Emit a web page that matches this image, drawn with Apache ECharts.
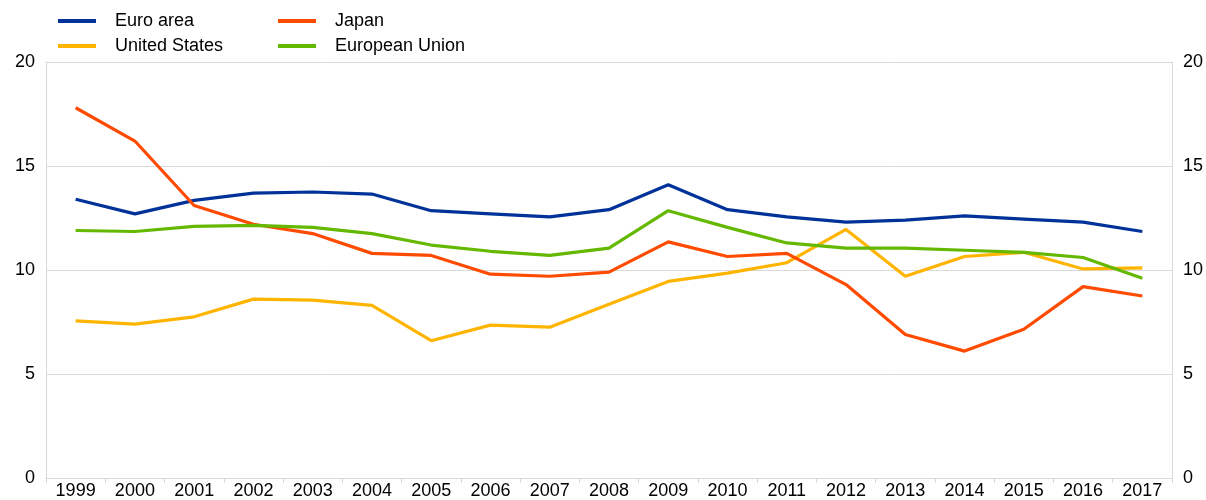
<!DOCTYPE html>
<html>
<head>
<meta charset="utf-8">
<script src="https://cdn.jsdelivr.net/npm/echarts@6/dist/echarts.min.js"></script>
<style>
  html, body { margin: 0; padding: 0; background: #fff; }
  #chart { width: 1206px; height: 500px; }
</style>
</head>
<body>
<div id="chart"></div>
<script>
// ── data ─────────────────────────────────────────────
const years = ['1999', '2000', '2001', '2002', '2003', '2004', '2005', '2006', '2007', '2008',
  '2009', '2010', '2011', '2012', '2013', '2014', '2015', '2016', '2017'];

const euroArea = [13.4, 12.7, 13.35, 13.7, 13.75, 13.65, 12.85, 12.7, 12.55, 12.9,
  14.1, 12.9, 12.55, 12.3, 12.4, 12.6, 12.45, 12.3, 11.85];
const unitedStates = [7.55, 7.4, 7.75, 8.6, 8.55, 8.3, 6.6, 7.35, 7.25, 8.35,
  9.45, 9.85, 10.35, 11.95, 9.7, 10.65, 10.85, 10.05, 10.1];
const japan = [17.8, 16.2, 13.1, 12.2, 11.75, 10.8, 10.7, 9.8, 9.7, 9.9,
  11.35, 10.65, 10.8, 9.3, 6.9, 6.1, 7.15, 9.2, 8.75];
const europeanUnion = [11.9, 11.85, 12.1, 12.15, 12.05, 11.75, 11.2, 10.9, 10.7, 11.05,
  12.85, 12.05, 11.3, 11.05, 11.05, 10.95, 10.85, 10.6, 9.6];

const yTicks = [0, 5, 10, 15, 20];

// ── chart ────────────────────────────────────────────
const FONT = 'Liberation Sans, Arial, sans-serif';
const FS = 18;
const colors = {
  'Euro area': '#003299',
  'United States': '#ffb400',
  'Japan': '#ff4b00',
  'European Union': '#65b800',
};

function line(name, data) {
  return {
    name, type: 'line', data,
    symbol: 'none',
    lineStyle: { width: 3.2, color: colors[name] },
    itemStyle: { color: colors[name] },
  };
}

function legendAt(name, left, top) {
  return {
    data: [name], left, top,
    itemWidth: 38, itemHeight: 4, itemGap: 0,
    icon: 'rect',
    textStyle: { fontFamily: FONT, fontSize: FS, color: '#000', padding: [0, 0, 0, 14] },
  };
}

const yAxisBase = {
  type: 'value', min: yTicks[0], max: yTicks[yTicks.length - 1], interval: 5,
  axisLine: { show: true, lineStyle: { color: '#d9d9d9' } },
  axisTick: { show: false },
  axisLabel: { fontFamily: FONT, fontSize: FS, color: '#000', margin: 11 },
};

const chart = echarts.init(document.getElementById('chart'), null, { renderer: 'canvas' });
chart.setOption({
  animation: false,
  color: Object.values(colors),
  legend: [
    legendAt('Euro area', 53, 7),
    legendAt('Japan', 273, 7),
    legendAt('United States', 53, 32),
    legendAt('European Union', 273, 32),
  ],
  grid: { left: 46, right: 33, top: 62, bottom: 17, containLabel: false },
  xAxis: {
    type: 'category', data: years, boundaryGap: true,
    axisLine: { lineStyle: { color: '#d9d9d9' } },
    axisTick: { show: true, length: 5, lineStyle: { color: '#d9d9d9' } },
    axisLabel: { fontFamily: FONT, fontSize: FS, color: '#000', margin: 4, interval: 0 },
  },
  yAxis: [
    Object.assign({}, yAxisBase, {
      position: 'left',
      splitLine: { show: true, lineStyle: { color: '#d9d9d9' } },
    }),
    Object.assign({}, yAxisBase, {
      position: 'right',
      splitLine: { show: false },
    }),
  ],
  series: [
    line('Euro area', euroArea),
    line('United States', unitedStates),
    line('Japan', japan),
    line('European Union', europeanUnion),
  ],
});
</script>
</body>
</html>
